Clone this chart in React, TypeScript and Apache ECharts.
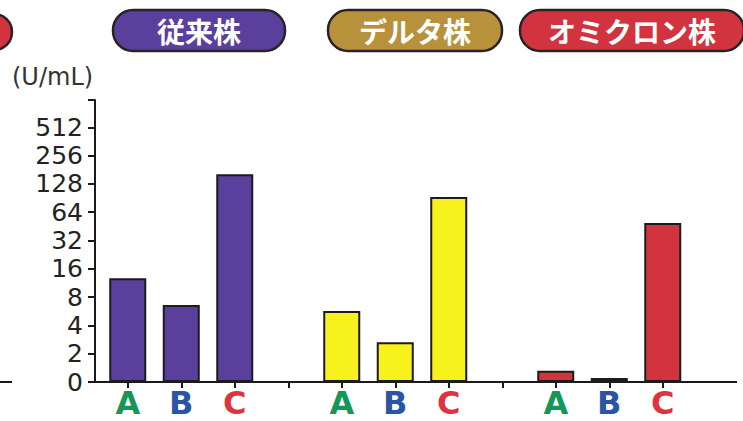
import React, { useEffect, useRef } from "react";
import * as echarts from "echarts";

const strains = ["従来株", "デルタ株", "オミクロン株"];
const groupLabels = ["A", "B", "C"];
const conventional = [12.7, 6.6, 162];
const delta = [5.7, 2.65, 93];
const omicron = [1.32, 1.1, 49];
const yTicks = [1, 2, 4, 8, 16, 32, 64, 128, 256, 512];
const unitLabel = "(U/mL)";

const labelColors: Record<string, string> = { A: "#16975a", B: "#2a55a5", C: "#e0323f" };
const barColors = ["#5b3f9d", "#f7f11e", "#d2343f"];
const pillColors = ["#5b3f9d", "#b8923b", "#d2343f"];

export default function App() {
  const ref = useRef<HTMLDivElement>(null);
  useEffect(() => {
    if (!ref.current) return;
    const chart = echarts.init(ref.current, null, { renderer: "svg" });
    const groups = [conventional, delta, omicron];
    const cats: any[] = [];
    groups.forEach((_, gi) => {
      groupLabels.forEach((l) => cats.push({ value: l, textStyle: { color: labelColors[l] } }));
      if (gi < groups.length - 1) cats.push({ value: " " });
    });
    const series = groups.map((vals, gi) => {
      const data: any[] = cats.map(() => "-");
      vals.forEach((v, i) => {
        data[gi * 4 + i] = v;
      });
      return {
        type: "bar",
        name: strains[gi],
        data,
        barWidth: 37,
        barGap: "-100%",
        itemStyle: { color: barColors[gi], borderColor: "#1e1a1e", borderWidth: 2 },
      };
    });
    const pillX = [113, 328, 520];
    const pillW = [172, 174, 224];
    const pills: any[] = strains.map((s, i) => ({
      type: "group",
      children: [
        {
          type: "rect",
          shape: { x: pillX[i], y: 10, width: pillW[i], height: 41, r: 20 },
          style: { fill: pillColors[i], stroke: "#2a2226", lineWidth: 2.5 },
        },
        {
          type: "text",
          x: pillX[i] + pillW[i] / 2,
          y: 31,
          style: {
            text: s,
            fill: "#ffffff",
            font: "bold 28px 'Noto Sans CJK JP'",
            align: "center",
            verticalAlign: "middle",
          },
        },
      ],
    }));
    chart.setOption({
      animation: false,
      grid: { left: 101, right: 53.5, top: 100, bottom: 39, containLabel: false },
      xAxis: {
        type: "category",
        data: cats,
        axisLine: { lineStyle: { color: "#1a1a1a", width: 2 } },
        axisTick: {
          show: true,
          alignWithLabel: true,
          length: 6,
          interval: 0,
          lineStyle: { color: "#1a1a1a", width: 2 },
        },
        axisLabel: {
          interval: 0,
          margin: 5,
          fontSize: 32,
          fontWeight: "bold",
          fontFamily: "DejaVu Sans",
        },
      },
      yAxis: {
        type: "log",
        logBase: 2,
        min: 1,
        max: 1000,
        offset: 6,
        splitLine: { show: false },
        axisLine: { show: true, lineStyle: { color: "#1a1a1a", width: 2 } },
        axisTick: { show: true, length: 7, lineStyle: { color: "#1a1a1a", width: 2 } },
        axisLabel: {
          margin: 12,
          fontSize: 25,
          fontFamily: "DejaVu Sans",
          color: "#222",
          formatter: (v: number) => {
            const r = Math.round(v);
            if (r === 1) return "0";
            return yTicks.indexOf(r) >= 0 ? String(r) : "";
          },
        },
      },
      graphic: [
        ...pills,
        {
          type: "circle",
          shape: { cx: -6, cy: 32, r: 18 },
          style: { fill: "#d2343f", stroke: "#2a2226", lineWidth: 2.5 },
        },
        {
          type: "line",
          shape: { x1: 0, y1: 382, x2: 12, y2: 382 },
          style: { stroke: "#1a1a1a", lineWidth: 2 },
        },
        {
          type: "line",
          shape: { x1: 88, y1: 382, x2: 102, y2: 382 },
          style: { stroke: "#1a1a1a", lineWidth: 2 },
        },
        {
          type: "line",
          shape: { x1: 688, y1: 382, x2: 737, y2: 382 },
          style: { stroke: "#1a1a1a", lineWidth: 2 },
        },
        {
          type: "text",
          x: 12,
          y: 77,
          style: {
            text: unitLabel,
            fill: "#333",
            font: "24px 'DejaVu Sans'",
            align: "left",
            verticalAlign: "middle",
          },
        },
      ],
      series,
    });
    return () => chart.dispose();
  }, []);
  return (
    <div
      ref={ref}
      style={{ position: "fixed", left: 0, top: 0, width: 743, height: 421, background: "#fff" }}
    />
  );
}
